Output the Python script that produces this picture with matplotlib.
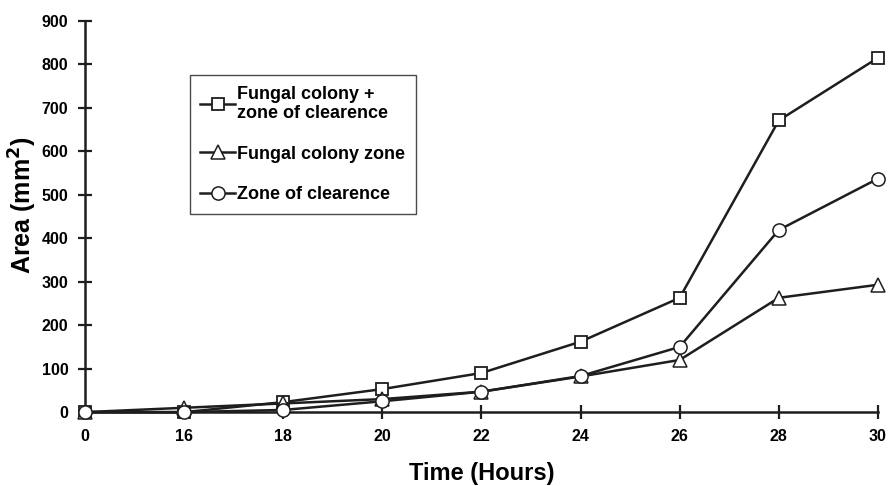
import matplotlib
matplotlib.use('Agg')
import matplotlib.pyplot as plt
import numpy as np

plt.rcParams['font.family'] = ['Liberation Sans', 'DejaVu Sans']
plt.rcParams['font.weight'] = 'bold'

hours = ['0', '16', '18', '20', '22', '24', '26', '28', '30']
colony_plus_zone = [0, 0, 23, 53, 90, 162, 263, 671, 815]
colony_zone      = [0, 10, 20, 30, 47, 82, 120, 263, 293]
clear_zone       = [0, 0, 5, 25, 47, 83, 150, 419, 537]

x = np.arange(len(hours))
ink = '#1e1e1e'

fig = plt.figure(figsize=(8.94, 4.86), dpi=100)
ax = fig.add_axes([0.095, 0.152, 0.887, 0.805])

ax.plot(x, colony_plus_zone, '-s', color=ink, lw=1.8, ms=9, mfc='white', mec=ink, mew=1.3,
        clip_on=False, zorder=3, label='Fungal colony +\nzone of clearence')
ax.plot(x, colony_zone, '-^', color=ink, lw=1.8, ms=10, mfc='white', mec=ink, mew=1.1,
        clip_on=False, zorder=3, label='Fungal colony zone')
ax.plot(x, clear_zone, '-o', color=ink, lw=1.8, ms=9.5, mfc='white', mec=ink, mew=1.1,
        clip_on=False, zorder=4, label='Zone of clearence')

ax.set_xlim(0, len(hours) - 1)
ax.set_ylim(0, 900)
ax.set_xticks(x)
ax.set_xticklabels(hours)
ax.set_yticks(np.arange(0, 901, 100))
ax.spines['top'].set_visible(False)
ax.spines['right'].set_visible(False)
for s in ['left', 'bottom']:
    ax.spines[s].set_linewidth(1.8)
    ax.spines[s].set_color(ink)
ax.tick_params(direction='inout', length=10, width=1.6, color=ink, labelsize=11.5, pad=7)

ax.set_xlabel('Time (Hours)', fontsize=17, fontweight='bold')
ax.set_ylabel('Area (mm$^\\mathbf{2}$)', fontsize=18, fontweight='bold')
ax.xaxis.set_label_coords(0.5, -0.128)
ax.yaxis.set_label_coords(-0.058, 0.53)

leg = ax.legend(loc='upper left', bbox_to_anchor=(0.132, 0.862), fontsize=13,
                frameon=True, fancybox=False, edgecolor=ink, handlelength=1.9,
                handletextpad=0.15, labelspacing=1.3, borderpad=0.6, borderaxespad=0)
leg.get_frame().set_linewidth(1.0)

plt.savefig('out.png', dpi=100)
